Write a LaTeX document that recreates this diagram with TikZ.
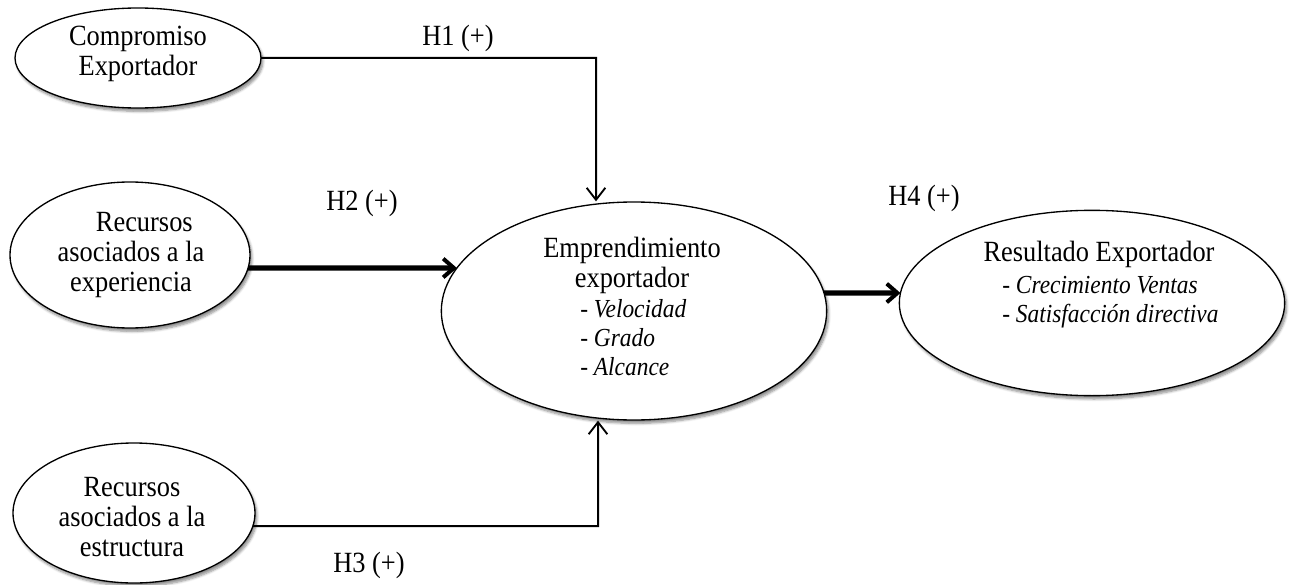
\documentclass[tikz,border=0pt]{standalone}
\usepackage{fontspec}
\setmainfont{Liberation Serif}[FakeStretch=0.9]
\usetikzlibrary{shapes.geometric,arrows.meta,shadows.blur,intersections}
\begin{document}
\begin{tikzpicture}[x=0.75pt,y=-0.75pt,
  construct/.style={ellipse,draw=black,line width=1pt,fill=white,inner sep=0pt,
    blur shadow={shadow xshift=1.5pt,shadow yshift=-2.5pt,shadow blur steps=6,shadow opacity=45}},
  txt/.style={font=\fontsize{22}{22.5}\selectfont,align=center,inner sep=0pt},
  sub/.style={font=\fontsize{19.5}{22}\selectfont\itshape,align=left,inner sep=0pt},
  hyp/.style={font=\fontsize{22}{22.5}\selectfont,inner sep=0pt},
  thin/.style={line width=1.5pt,-{Straight Barb[length=9pt,width=14pt,line width=1.4pt]}},
  thick/.style={line width=3.8pt,-{Straight Barb[length=8pt,width=14pt,line width=3pt]}}
]
\useasboundingbox (0,0) rectangle (1293,585);

\node[construct,name path=compP,minimum width=184.5pt,minimum height=75pt] (comp) at (138,58) {};
\node[txt] (compt) at (138,54) {Compromiso\\Exportador};

\node[construct,name path=rexpP,minimum width=180pt,minimum height=109.5pt] (rexp) at (130,255) {};
\node[txt] (rexpt) at (131,255) {\hspace*{20pt}Recursos\\asociados a la\\experiencia};

\node[construct,name path=restP,minimum width=181.5pt,minimum height=105pt] (rest) at (134,513) {};
\node[txt] (restt) at (132,517) {Recursos\\asociados a la\\estructura};

\node[construct,name path=emprP,minimum width=289pt,minimum height=163.5pt] (empr) at (634,311) {};
\node[txt] (emprt) at (632,265) {Emprendimiento\\exportador};
\node[sub,anchor=north west] (emprs) at (580,299) {- Velocidad\\- Grado\\- Alcance};

\node[construct,name path=resP,minimum width=289pt,minimum height=139pt] (res) at (1092,303) {};
\node[txt] (rest1) at (1099,254) {Resultado Exportador};
\node[sub,anchor=north west] (ress) at (1002,276) {- Crecimiento Ventas\\- Satisfacción directiva};

% hypothesis labels
\node[hyp] (h1) at (458,38) {H1 (+)};
\node[hyp] (h2) at (362,203) {H2 (+)};
\node[hyp] (h3) at (369,565) {H3 (+)};
\node[hyp] (h4) at (924,198) {H4 (+)};

% H1 and H3 elbow connectors
\path[name path=l1] (0,58) -- (1293,58);
\path[name intersections={of=compP and l1,sort by=l1,name=ia}];
\coordinate (h1c) at (596,58);
\draw[thin] (ia-2) -- (h1c) -- (h1c |- empr.north);

\path[name path=l3] (0,526) -- (1293,526);
\path[name intersections={of=restP and l3,sort by=l3,name=ic}];
\coordinate (h3c) at (598,526);
\draw[thin] (ic-2) -- (h3c) -- (h3c |- empr.south);

% H2 thick arrow
\path[name path=l2] (0,268) -- (1293,268);
\path[name intersections={of=rexpP and l2,sort by=l2,name=ib}];
\path[name intersections={of=emprP and l2,sort by=l2,name=id}];
\draw[thick] (ib-2) -- (id-1);

% H4 thick arrow
\path[name path=l4] (0,293) -- (1293,293);
\path[name intersections={of=emprP and l4,sort by=l4,name=ie}];
\path[name intersections={of=resP and l4,sort by=l4,name=if}];
\draw[thick] (ie-2) -- (if-1);
\end{tikzpicture}
\end{document}
